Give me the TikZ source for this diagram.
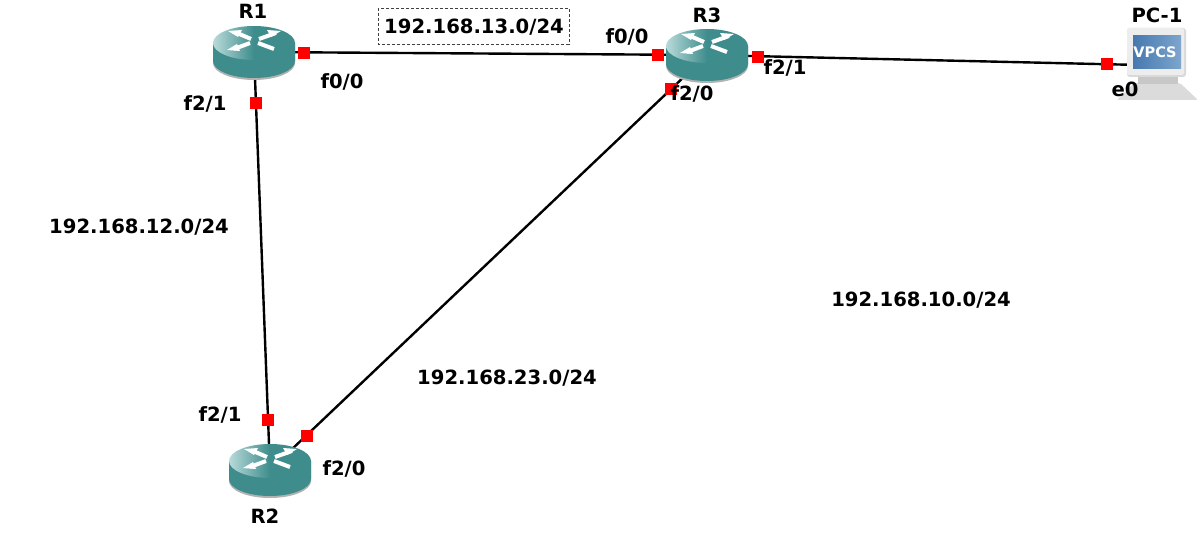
\documentclass[tikz,border=0pt]{standalone}
\usepackage{fontspec}
\setmainfont{DejaVu Sans}
\usetikzlibrary{calc}
\definecolor{teal1}{RGB}{62,140,140}
\definecolor{tealhi}{RGB}{185,218,218}
\definecolor{screenA}{RGB}{70,120,175}
\definecolor{screenB}{RGB}{125,165,205}
\tikzset{
  x=1bp,y=-1bp,
  lab/.style={font=\bfseries\fontsize{19.6bp}{21bp}\selectfont,inner sep=0pt,text=black},
  port/.style={fill=red,draw=none,minimum size=12bp,inner sep=0pt},
  wire/.style={line width=2.4bp,black},
  anchorbox/.style={minimum width=82bp,minimum height=52bp,inner sep=0pt},
  pcbox/.style={minimum width=60bp,minimum height=50bp,inner sep=0pt},
  xbar/.style={white,line width=4bp},
  router/.pic={
    \fill[black!30] (-41,-9) -- (-41,11) arc[start angle=180,end angle=0,x radius=41,y radius=17] -- (41,-9) -- cycle;
    \fill[teal1] (-41,-9) -- (-41,9) arc[start angle=180,end angle=0,x radius=41,y radius=17] -- (41,-9) -- cycle;
    \shade[left color=tealhi,right color=teal1,middle color=teal1] (0,-9) ellipse[x radius=41,y radius=17];
    \draw[xbar] (-17,-19) -- (-3,-13);
    \draw[xbar] (4,-9) -- (20,-3);
    \draw[xbar] (22,-19) -- (5,-13);
    \draw[xbar] (-4,-9) -- (-20,-3);
    \fill[white] (-26,-21) -- (-12,-22) -- (-16,-15) -- cycle;
    \fill[white] (27,-21) -- (13,-22) -- (17,-15) -- cycle;
    \fill[white] (-27,-2) -- (-17,-8) -- (-14,-1) -- cycle;
  }
}
\begin{document}
\begin{tikzpicture}
\useasboundingbox (0,0) rectangle (1199,556);
\fill[white] (0,0) rectangle (1199,556);

\node[anchorbox] (R1) at (254,52) {};
\node[anchorbox] (R2) at (270,470) {};
\node[anchorbox] (R3) at (707,55) {};
\node[pcbox] (PC) at (1140,65) {};

\draw[wire] (R1.center) -- (R3.center);
\draw[wire] (R1.center) -- (R2.center);
\draw[wire] (R2.center) -- (R3.center);
\draw[wire] (R3.center) -- (PC.center);

\pic at (R1.center) {router};
\pic at (R2.center) {router};
\pic at (R3.center) {router};

% PC
\fill[black!14,rounded corners=2bp] (1134,83) -- (1180,83) -- (1198,100) -- (1117,100) -- cycle;
\fill[black!22] (1138,77) rectangle (1178,84);
\fill[black!15,rounded corners=3bp] (1127,28) rectangle (1186,77);
\fill[black!7,rounded corners=2bp] (1127,28) rectangle (1184,75);
\shade[left color=screenA,right color=screenB] (1133,36) rectangle (1181,69);
\node[font=\bfseries\fontsize{14.5bp}{15bp}\selectfont,text=white,inner sep=0pt] (vpcs) at (1155,52) {VPCS};

\node[port] (p1) at (304,53) {};
\node[port] (p2) at (256,103) {};
\node[port] (p3) at (658,55) {};
\node[port] (p4) at (757.5,57) {};
\node[port] (p5) at (671,89) {};
\node[port] (p6) at (1107,64) {};
\node[port] (p7) at (268,420) {};
\node[port] (p8) at (307,436) {};

\node[lab] (tR1) at (253,11) {R1};
\node[lab] (tR2) at (265,516) {R2};
\node[lab] (tR3) at (707,15) {R3};
\node[lab] (tPC) at (1157,15) {PC-1};
\node[lab] (a1) at (342,82) {f0/0};
\node[lab] (a2) at (205,104) {f2/1};
\node[lab] (a3) at (627,37) {f0/0};
\node[lab] (a4) at (785,68) {f2/1};
\node[lab] (a5) at (692,94) {f2/0};
\node[lab] (a6) at (1125,89) {e0};
\node[lab] (a7) at (220,415) {f2/1};
\node[lab] (a8) at (344,469) {f2/0};
\node[lab] (n13) at (474,27) {192.168.13.0/24};
\draw[black!75,densely dashed,line width=0.8bp] (378,8) rectangle (569,44);
\node[lab] (n12) at (139,227) {192.168.12.0/24};
\node[lab] (n10) at (921,300) {192.168.10.0/24};
\node[lab] (n23) at (507,378) {192.168.23.0/24};
\end{tikzpicture}
\end{document}
